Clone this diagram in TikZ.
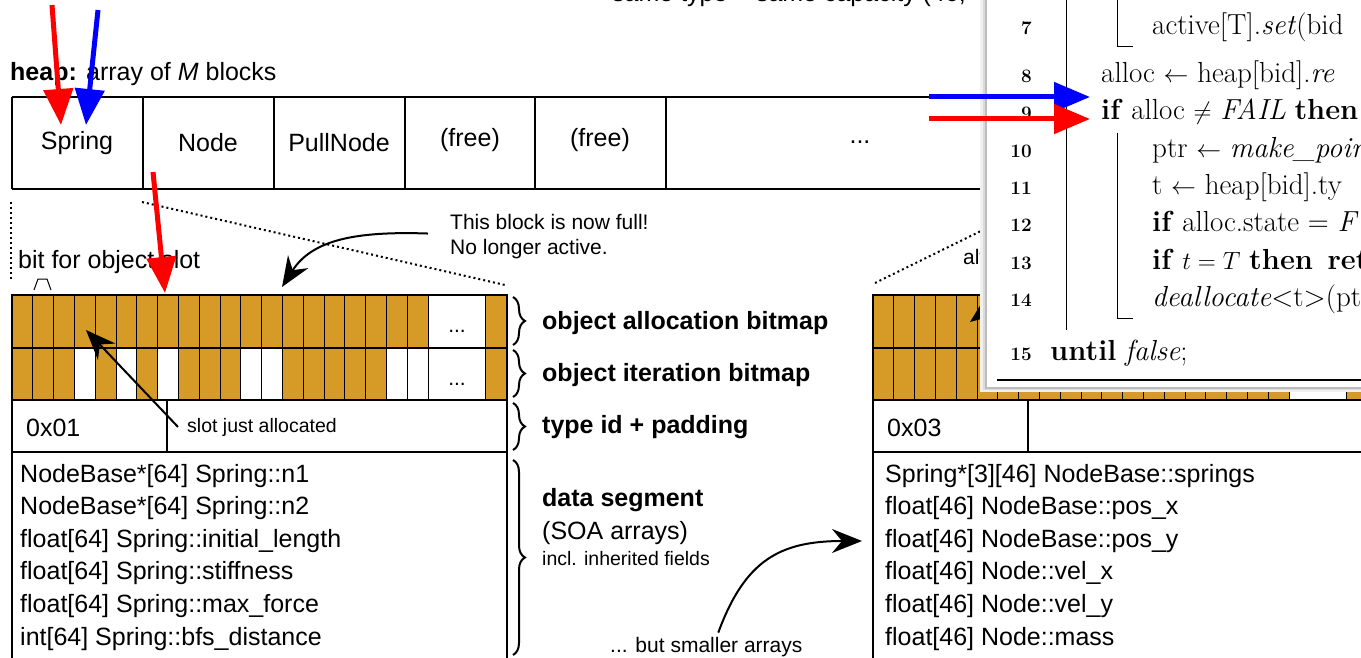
\documentclass[tikz,border=0pt]{standalone}
\usepackage{fontspec}
\newfontfamily\hv{Liberation Sans}
\usetikzlibrary{arrows.meta,decorations.pathreplacing,calc}
\definecolor{gold}{RGB}{214,155,38}
\tikzset{
  sf/.style={font=\hv\fontsize{25}{30}\selectfont, inner sep=0pt},
  sfbold/.style={font=\hv\bfseries\fontsize{25}{30}\selectfont, inner sep=0pt},
  sfsmall/.style={font=\hv\fontsize{19.5}{24}\selectfont, inner sep=0pt},
  sfmed/.style={font=\hv\fontsize{21}{25}\selectfont, inner sep=0pt},
  algo/.style={font=\fontsize{29}{34}\selectfont, inner sep=0pt, anchor=base west},
  lnum/.style={font=\bfseries\fontsize{19}{22}\selectfont, inner sep=0pt, anchor=base east},
  frame/.style={line width=2pt},
  cell/.style={draw=black, line width=1pt, fill=gold},
  freecell/.style={draw=black, line width=1pt, fill=white},
  dots/.style={line width=2pt, dash pattern=on 2pt off 3pt},
  hilite/.style={line width=5pt, -{Triangle[length=36pt,width=29pt]}},
  note/.style={line width=2pt, -{Stealth[length=30pt,width=24pt,inset=10pt]}},
  bracefig/.style={decorate, decoration={brace, amplitude=12pt}, line width=2pt},
  algoline/.style={line width=1pt},
}
\newcommand\drawmemblock[3]{%
\begin{scope}[xshift=#1pt]
  \foreach \i in {0,...,19}{
    \draw[cell] ({12+20.8*\i},295) rectangle ({12+20.8*(\i+1)},348);
    \draw[cell] ({12+20.8*\i},348) rectangle ({12+20.8*(\i+1)},400);}
  \foreach \i in {#3}{\ifnum\i>-1
    \draw[freecell] ({12+20.8*\i},348) rectangle ({12+20.8*(\i+1)},400);\fi}
  \draw[freecell] (428,295) rectangle (485,348);
  \draw[freecell] (428,348) rectangle (485,400);
  \draw[cell] (485,295) rectangle (507,348);
  \draw[cell] (485,348) rectangle (507,400);
  \node[sfmed] (dotsA#2) at (457,331) {...};
  \node[sfmed] (dotsB#2) at (457,384) {...};
  \draw[frame] (12,690) -- (12,295) -- (507,295) -- (507,690);
  \draw[line width=1.5pt] (12,348) -- (507,348);
  \draw[frame] (12,400) -- (507,400);
  \draw[frame] (12,452) -- (507,452);
  \draw[frame] (167,400) -- (167,452);
\end{scope}}
\begin{document}
\begin{tikzpicture}[x=1pt,y=-1pt]
\useasboundingbox (0,0) rectangle (1361,658);
\fill[white] (0,0) rectangle (1361,658);

% top cut-off caption
\node[sf, anchor=base west] (toptext) at (612,1.5) {same type + same capacity (46,};

% heap
\node[sf, anchor=base west] (heaplbl) at (10,81) {\textbf{heap:} array of \textit{M} blocks};
\draw[frame] (12,97) -- (1100,97);
\draw[frame] (12,189) -- (1100,189);
\foreach \x in {12,143,274,405,535,666}{\draw[frame] (\x,97) -- (\x,189);}
\node[sf] (hSpring) at (77,143) {Spring};
\node[sf] (hNode) at (208,143) {Node};
\node[sf] (hPull) at (339,143) {PullNode};
\node[sf] (hFreeA) at (470,140) {(free)};
\node[sf] (hFreeB) at (600,140) {(free)};
\node[sf] (hDots) at (860,142) {...};

% blocks
\drawmemblock{0}{L}{3,5,7,11,12,18,19}
\drawmemblock{861}{R}{-1}

% dotted zoom lines
\draw[dots] (11,202) -- (11,281);
\draw[dots] (142,202) -- (505,285);
\draw[dots] (875,283) -- (1044,200);

% left block labels
\node[sf, anchor=base west] (bitlbl) at (18,268) {bit for object slot};
\draw[line width=1pt] (34,290) -- (38,279) -- (47,279) -- (51,290);
\node[sf, anchor=base west] (tidL) at (26,436) {0x01};
\node[sfsmall, anchor=base west] (slotlbl) at (187,432) {slot just allocated};
\node[sf, anchor=base west] (dL1) at (20,482) {NodeBase*[64] Spring::n1};
\node[sf, anchor=base west] (dL2) at (20,514.6) {NodeBase*[64] Spring::n2};
\node[sf, anchor=base west] (dL3) at (20,547.2) {float[64] Spring::initial\_length};
\node[sf, anchor=base west] (dL4) at (20,579.8) {float[64] Spring::stiffness};
\node[sf, anchor=base west] (dL5) at (20,612.4) {float[64] Spring::max\_force};
\node[sf, anchor=base west] (dL6) at (20,645) {int[64] Spring::bfs\_distance};

% right block labels
\node[sf, anchor=base west] (tidR) at (887,436) {0x03};
\node[sf, anchor=base west] (dR1) at (885,482) {Spring*[3][46] NodeBase::springs};
\node[sf, anchor=base west] (dR2) at (885,514.6) {float[46] NodeBase::pos\_x};
\node[sf, anchor=base west] (dR3) at (885,547.2) {float[46] NodeBase::pos\_y};
\node[sf, anchor=base west] (dR4) at (885,579.8) {float[46] Node::vel\_x};
\node[sf, anchor=base west] (dR5) at (885,612.4) {float[46] Node::vel\_y};
\node[sf, anchor=base west] (dR6) at (885,645) {float[46] Node::mass};
\node[sfmed, anchor=base west] (alw) at (963,264) {alw};

% braces and their labels
\draw[bracefig] (513,297) -- (513,345);
\draw[bracefig] (513,350) -- (513,397);
\draw[bracefig] (513,403) -- (513,450);
\draw[bracefig] (513,460) -- (513,655);
\node[sfbold, anchor=base west] (lblAlloc) at (542,329) {object allocation bitmap};
\node[sfbold, anchor=base west] (lblIter) at (542,381) {object iteration bitmap};
\node[sfbold, anchor=base west] (lblType) at (542,433) {type id + padding};
\node[sfbold, anchor=base west] (lblData) at (542,506) {data segment};
\node[sf, anchor=base west] (lblSoa) at (542,539) {(SOA arrays)};
\node[sfsmall, anchor=base west] (lblIncl) at (542,565) {incl. inherited fields};

% annotations
\node[sfmed, anchor=base west] (fullA) at (450,229.5) {This block is now full!};
\node[sfmed, anchor=base west] (fullB) at (450,254.5) {No longer active.};
\node[sfmed, anchor=base west] (smaller) at (610,652) {... but smaller arrays};
\coordinate (fulltip) at (282,287);
\coordinate (slottip) at (86,330);
\coordinate (soatip) at (862,541);
\coordinate (alwtip) at (970,322);
\draw[note] ($(fullA.west)!0.5!(fullB.west)+(-22,-2)$) .. controls (355,231) and (312,240) .. (fulltip);
\draw[note] ([xshift=-9pt]slotlbl.west) -- (slottip);
\draw[note] ([xshift=12pt,yshift=4pt]smaller.north) .. controls (745,560) and (780,541) .. (soatip);
\draw[note] (1010,292) -- (alwtip);

% algorithm box with shadow
\fill[black!6] (980,-20) rectangle (1400,392);
\fill[black!14] (982.5,-20) rectangle (1400,390);
\fill[black!26] (985,-20) rectangle (1400,388.5);
\fill[white] (987,-20) rectangle (1400,387);
\draw[line width=1.8pt] (997,380) -- (1400,380);
\draw[algoline] (1066,-20) -- (1066,330);
\draw[algoline] (1117,-20) -- (1117,47) -- (1133,47);
\draw[algoline] (1117,133) -- (1117,318) -- (1133,318);
\node[lnum] (n7) at (1032,35) {7};
\node[lnum] (n8) at (1032,83) {8};
\node[lnum] (n9) at (1032,120) {9};
\node[lnum] (n10) at (1032,158) {10};
\node[lnum] (n11) at (1032,195) {11};
\node[lnum] (n12) at (1032,232) {12};
\node[lnum] (n13) at (1032,269) {13};
\node[lnum] (n14) at (1032,306) {14};
\node[lnum] (n15) at (1032,360) {15};
\node[algo] (l7) at (1152,35) {active[T].\textit{set}(bid};
\node[algo] (l8) at (1101,83) {alloc $\leftarrow$ heap[bid].\textit{re}};
\node[algo] (l9) at (1101,120) {\textbf{if} alloc $\neq$ \textit{FAIL} \textbf{then}};
\node[algo] (l10) at (1152,158) {ptr $\leftarrow$ \textit{make\_point}};
\node[algo] (l11) at (1152,195) {t $\leftarrow$ heap[bid].ty};
\node[algo] (l12) at (1152,232) {\textbf{if} alloc.state = \textit{FU}};
\node[algo] (l13) at (1152,269) {\textbf{if} $t = T$ \textbf{then}\enspace\textbf{ret}};
\node[algo] (l14) at (1152,306) {\textit{deallocate}<t>(ptr};
\node[algo] (l15) at (1050,360) {\textbf{until} \textit{false};};

% highlight arrows
\coordinate (rA0) at (52,5);  \coordinate (rA1) at (61,125);
\coordinate (bA0) at (98,10); \coordinate (bA1) at (86,125);
\coordinate (rB0) at (153,172); \coordinate (rB1) at (165,293);
\coordinate (bC0) at (929,97); \coordinate (rC0) at (929,119);
\draw[hilite, red] (rA0) -- (rA1);
\draw[hilite, blue] (bA0) -- (bA1);
\draw[hilite, red] (rB0) -- (rB1);
\draw[hilite, blue] (bC0) -- ([xshift=-11pt]l9.west |- bC0);
\draw[hilite, red] (rC0) -- ([xshift=-11pt]l9.west |- rC0);
\end{tikzpicture}
\end{document}
